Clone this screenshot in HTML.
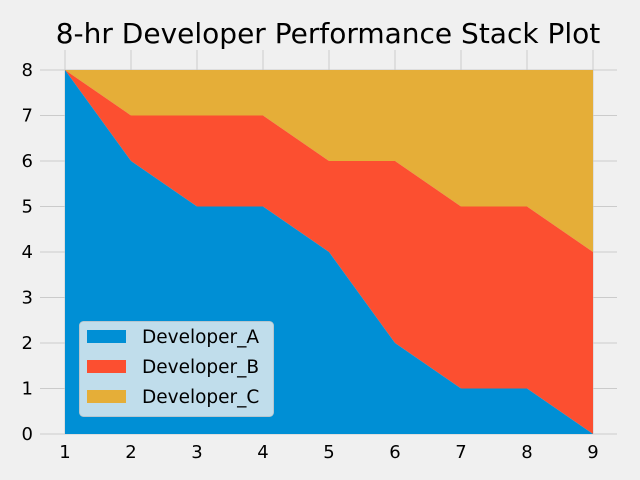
<!DOCTYPE html>
<html><head><style>body{margin:0;background:#f0f0f0}svg{display:block}</style></head>
<body>
<svg width="640" height="480" xmlns="http://www.w3.org/2000/svg" font-family="DejaVu Sans, Liberation Sans, sans-serif">
<rect width="640" height="480" fill="#f0f0f0"/>
<g stroke="#cbcbcb" stroke-width="1">
<line x1="40" y1="70" x2="617" y2="70"/><line x1="40" y1="115.5" x2="617" y2="115.5"/><line x1="40" y1="161" x2="617" y2="161"/><line x1="40" y1="206.5" x2="617" y2="206.5"/><line x1="40" y1="252" x2="617" y2="252"/><line x1="40" y1="297.5" x2="617" y2="297.5"/><line x1="40" y1="343" x2="617" y2="343"/><line x1="40" y1="388.5" x2="617" y2="388.5"/><line x1="40" y1="434" x2="617" y2="434"/>
<line x1="65" y1="50" x2="65" y2="434"/><line x1="131" y1="50" x2="131" y2="434"/><line x1="197" y1="50" x2="197" y2="434"/><line x1="263" y1="50" x2="263" y2="434"/><line x1="329" y1="50" x2="329" y2="434"/><line x1="395" y1="50" x2="395" y2="434"/><line x1="461" y1="50" x2="461" y2="434"/><line x1="527" y1="50" x2="527" y2="434"/><line x1="593" y1="50" x2="593" y2="434"/>
</g>
<polygon fill="#e5ae38" points="65,70 593,70 593,252 527,206.5 461,206.5 395,161 329,161 263,115.5 197,115.5 131,115.5 65,70"/>
<polygon fill="#fc4f30" points="65,70 131,115.5 197,115.5 263,115.5 329,161 395,161 461,206.5 527,206.5 593,252 593,434 527,388.5 461,388.5 395,343 329,252 263,206.5 197,206.5 131,161"/>
<polygon fill="#008fd5" points="65,70 131,161 197,206.5 263,206.5 329,252 395,343 461,388.5 527,388.5 593,434 65,434"/>
<rect x="79.5" y="321.5" width="194" height="95" rx="4" fill="#f0f0f0" fill-opacity="0.8" stroke="#cbcbcb" stroke-opacity="0.8"/>
<rect x="87" y="330" width="39" height="13" fill="#008fd5"/>
<rect x="87" y="360" width="39" height="13" fill="#fc4f30"/>
<rect x="87" y="390" width="39" height="13" fill="#e5ae38"/>
<g font-size="18.5" fill="#000">
<text x="142" y="343">Developer_A</text><text x="142" y="373">Developer_B</text><text x="142" y="403">Developer_C</text>
</g>
<text x="328" y="43" font-size="28" text-anchor="middle">8-hr Developer Performance Stack Plot</text>
<g font-size="18" text-anchor="middle">
<text x="65" y="458">1</text><text x="131" y="458">2</text><text x="197" y="458">3</text><text x="263" y="458">4</text><text x="329" y="458">5</text><text x="395" y="458">6</text><text x="461" y="458">7</text><text x="527" y="458">8</text><text x="593" y="458">9</text>
</g>
<g font-size="18" text-anchor="end">
<text x="33" y="76">8</text><text x="33" y="121.5">7</text><text x="33" y="167">6</text><text x="33" y="212.5">5</text><text x="33" y="258">4</text><text x="33" y="303.5">3</text><text x="33" y="349">2</text><text x="33" y="394.5">1</text><text x="33" y="440">0</text>
</g>
</svg>
</body></html>
